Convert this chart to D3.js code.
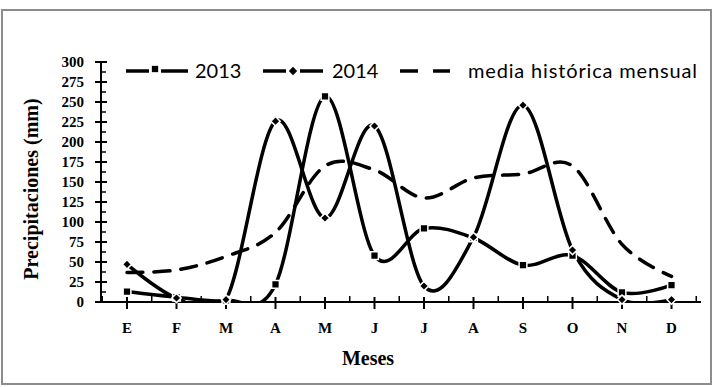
<!DOCTYPE html>
<html>
<head>
<meta charset="utf-8">
<script src="https://cdn.jsdelivr.net/npm/d3@7"></script>
<style>
  body { margin: 0; background: #fff; }
  .serif { font-family: "Liberation Serif", "Times New Roman", serif; font-weight: bold; }
  .sans { font-family: Lato, "Open Sans", sans-serif; }
</style>
</head>
<body>
<svg width="720" height="387"></svg>
<script>
// data
var months = ['E', 'F', 'M', 'A', 'M ', 'J', 'J ', 'A ', 'S', 'O', 'N', 'D']
var monthLabels = ['E', 'F', 'M', 'A', 'M', 'J', 'J', 'A', 'S', 'O', 'N', 'D']
var values2013 = [13, 6, 2, 22, 257, 58, 92, 80, 46, 58, 12, 21]
var values2014 = [47, 5, 3, 226, 105, 220, 20, 81, 246, 65, 3, 3]
var valuesMedia = [37, 40, 57, 87, 170, 165, 130, 155, 160, 170, 72, 32]
var yTicks = d3.range(0, 301, 25)

var svg = d3.select('svg')

// outer frame
svg.append('rect')
  .attr('x', 2).attr('y', 10).attr('width', 709).attr('height', 374)
  .style('fill', 'none').style('stroke', '#8c8c8c').style('stroke-width', 2)

var x = d3.scalePoint().domain(months).range([127, 671.5])
var y = d3.scaleLinear().domain([0, 300]).range([302, 62])

// clip the smoothed lines to the plot area, like the spreadsheet does
svg.append('clipPath').attr('id', 'plot')
  .append('rect').attr('x', 98).attr('y', 20).attr('width', 605).attr('height', y(0) - 20 + 1)

// y axis
var yAxis = svg.append('g').attr('transform', 'translate(101,0)')
yAxis.append('line').attr('y1', y(300)).attr('y2', y(0)).style('stroke', '#000').style('stroke-width', 2)
yAxis.selectAll('.maj').data(yTicks).enter().append('line')
  .attr('x1', -6).attr('x2', 6).attr('y1', d => y(d)).attr('y2', d => y(d))
  .style('stroke', '#000').style('stroke-width', 2)
yAxis.selectAll('.min').data(d3.range(12.5, 300, 25)).enter().append('line')
  .attr('x1', 0).attr('x2', 5).attr('y1', d => y(d)).attr('y2', d => y(d))
  .style('stroke', '#000').style('stroke-width', 1.5)
yAxis.selectAll('text').data(yTicks).enter().append('text')
  .attr('class', 'serif')
  .attr('x', -17).attr('y', d => y(d) + 5)
  .attr('text-anchor', 'end').style('font-size', '15px')
  .text(d => d)

// x axis
var step = x.step()
var xAxis = svg.append('g')
xAxis.append('line').attr('x1', 98).attr('x2', 701).attr('y1', y(0)).attr('y2', y(0))
  .style('stroke', '#000').style('stroke-width', 2)
xAxis.selectAll('.maj').data(months).enter().append('line')
  .attr('x1', d => x(d)).attr('x2', d => x(d)).attr('y1', y(0) - 5).attr('y2', y(0) + 7)
  .style('stroke', '#000').style('stroke-width', 2)
xAxis.selectAll('.min').data(months.concat(['_'])).enter().append('line')
  .attr('x1', (d, i) => x(months[0]) + (i - 0.5) * step)
  .attr('x2', (d, i) => x(months[0]) + (i - 0.5) * step)
  .attr('y1', y(0) - 6).attr('y2', y(0))
  .style('stroke', '#000').style('stroke-width', 1.5)
xAxis.selectAll('text').data(months).enter().append('text')
  .attr('class', 'serif')
  .attr('x', d => x(d)).attr('y', 333)
  .attr('text-anchor', 'middle').style('font-size', '15px')
  .text((d, i) => monthLabels[i])

// axis titles
svg.append('text').attr('class', 'serif')
  .attr('x', 368).attr('y', 365).attr('text-anchor', 'middle')
  .style('font-size', '20px').text('Meses')
svg.append('text').attr('class', 'serif')
  .attr('transform', 'translate(38,189) rotate(-90)').attr('text-anchor', 'middle')
  .style('font-size', '20px').text('Precipitaciones (mm)')

// lines
var line = d3.line()
  .x((d, i) => x(months[i]))
  .y(d => y(d))
  .curve(d3.curveCatmullRom.alpha(0))

var lines = svg.append('g').attr('clip-path', 'url(#plot)')

lines.append('path').datum(valuesMedia).attr('d', line)
  .style('fill', 'none').style('stroke', '#000').style('stroke-width', 3.5)
  .style('stroke-dasharray', '16,11').style('stroke-linecap', 'round')

lines.append('path').datum(values2014).attr('d', line)
  .style('fill', 'none').style('stroke', '#000').style('stroke-width', 3.5)
lines.append('path').datum(values2013).attr('d', line)
  .style('fill', 'none').style('stroke', '#000').style('stroke-width', 3.5)

var square = d3.symbol().type(d3.symbolSquare).size(60)
var diamond = d3.symbol().type(d3.symbolDiamond2).size(55)

svg.selectAll('.sq').data(values2013).enter().append('path')
  .attr('d', square)
  .attr('transform', (d, i) => 'translate(' + x(months[i]) + ',' + y(d) + ')')
  .style('fill', '#000').style('stroke', '#fff').style('stroke-width', 1.5)
svg.selectAll('.di').data(values2014).enter().append('path')
  .attr('d', diamond)
  .attr('transform', (d, i) => 'translate(' + x(months[i]) + ',' + y(d) + ')')
  .style('fill', '#000').style('stroke', '#fff').style('stroke-width', 1.5)

// legend
var lg = svg.append('g')
var ly = 71
lg.append('line').attr('x1', 126).attr('x2', 149).attr('y1', ly).attr('y2', ly)
  .style('stroke', '#000').style('stroke-width', 3.5)
lg.append('line').attr('x1', 161).attr('x2', 188).attr('y1', ly).attr('y2', ly)
  .style('stroke', '#000').style('stroke-width', 3.5)
lg.append('path').attr('d', d3.symbol().type(d3.symbolSquare).size(40))
  .attr('transform', 'translate(155,' + (ly - 2) + ')').style('fill', '#000')
lg.append('text').attr('class', 'sans').attr('x', 195).attr('y', ly + 7)
  .style('font-size', '20px').text('2013')

lg.append('line').attr('x1', 263).attr('x2', 286).attr('y1', ly).attr('y2', ly)
  .style('stroke', '#000').style('stroke-width', 3.5)
lg.append('line').attr('x1', 300).attr('x2', 323).attr('y1', ly).attr('y2', ly)
  .style('stroke', '#000').style('stroke-width', 3.5)
lg.append('path').attr('d', d3.symbol().type(d3.symbolDiamond2).size(45))
  .attr('transform', 'translate(293,' + ly + ')').style('fill', '#000')
lg.append('text').attr('class', 'sans').attr('x', 332).attr('y', ly + 7)
  .style('font-size', '20px').text('2014')

lg.append('line').attr('x1', 400).attr('x2', 418).attr('y1', ly).attr('y2', ly)
  .style('stroke', '#000').style('stroke-width', 3.5)
lg.append('line').attr('x1', 433).attr('x2', 450).attr('y1', ly).attr('y2', ly)
  .style('stroke', '#000').style('stroke-width', 3.5)
lg.append('text').attr('class', 'sans').attr('x', 468).attr('y', ly + 7)
  .style('font-size', '20px').attr('textLength', 229).attr('lengthAdjust', 'spacing')
  .text('media histórica mensual')
</script>
</body>
</html>
